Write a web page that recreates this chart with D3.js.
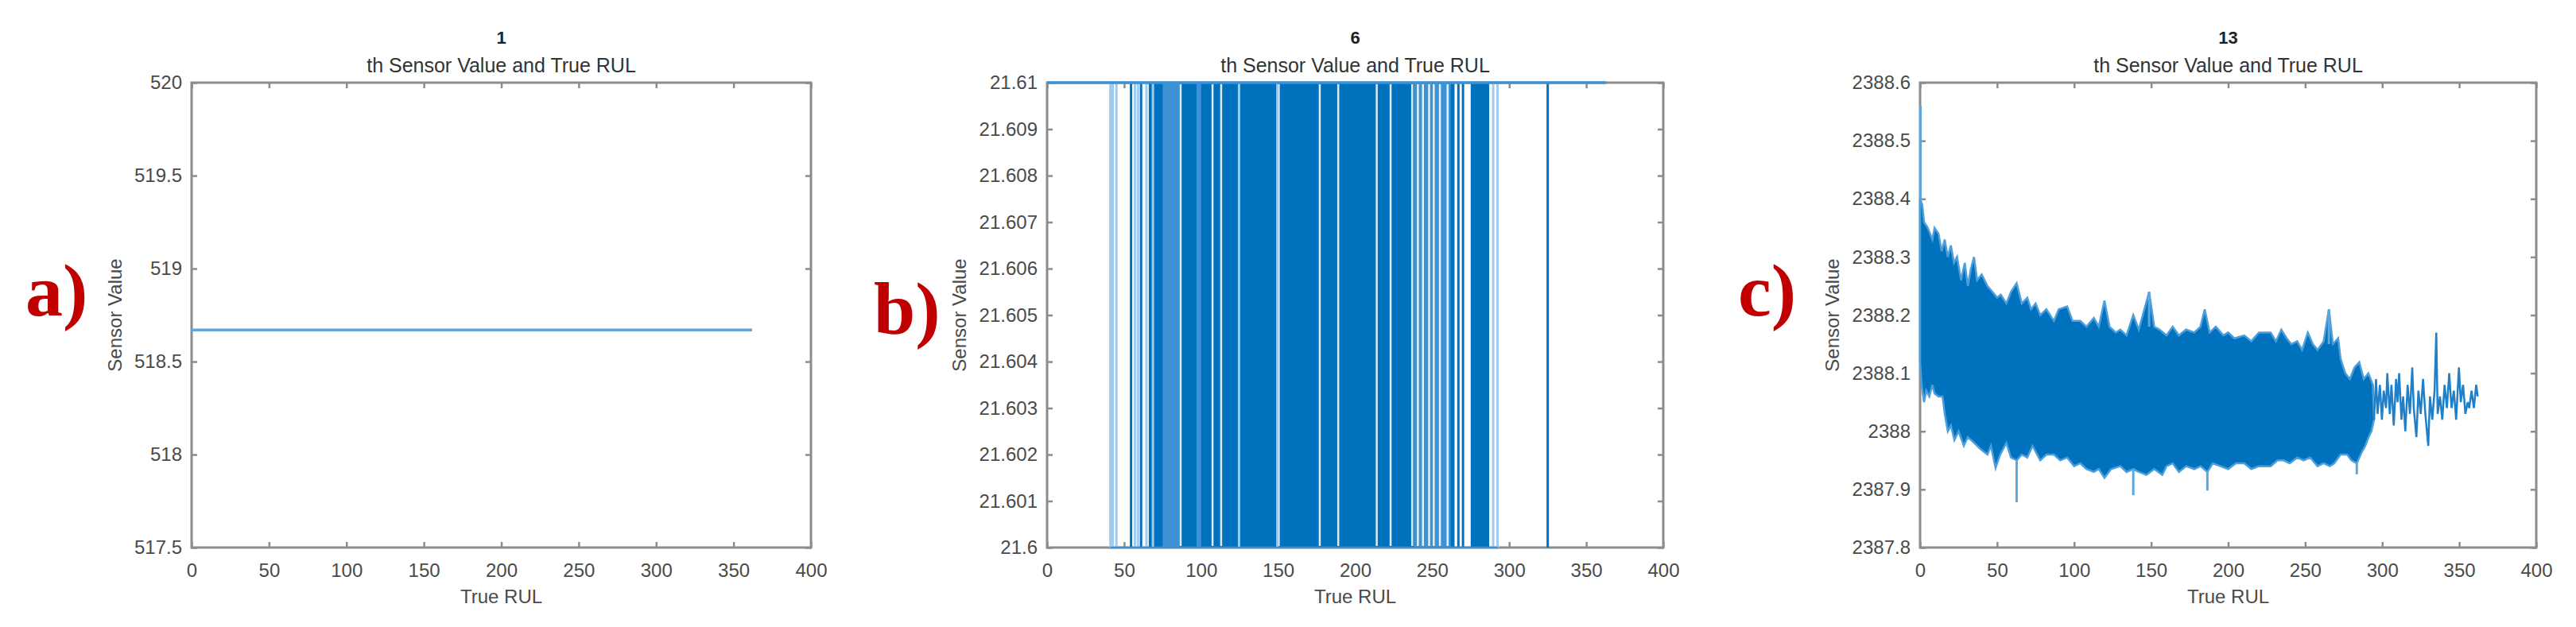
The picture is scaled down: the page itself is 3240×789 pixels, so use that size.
<!DOCTYPE html>
<html>
<head>
<meta charset="utf-8">
<script src="https://cdn.jsdelivr.net/npm/d3@7"></script>
<style>
  html, body { margin: 0; padding: 0; background: #fff; }
  svg { display: block; }
  text { font-family: "Liberation Sans", Arial, sans-serif; }
</style>
</head>
<body>
<svg id="chart" width="3240" height="789"></svg>
<script>
// ---------------- data ----------------
const rulTicks = [0, 50, 100, 150, 200, 250, 300, 350, 400];
const sensorIds = ["1", "6", "13"];
const subTitle = "th Sensor Value and True RUL";
const panelTags = ["a)", "b)", "c)"];
const xLabel = "True RUL";
const yLabel = "Sensor Value";

const aTicks = [517.5, 518, 518.5, 519, 519.5, 520];
const aTickLabels = ["517.5", "518", "518.5", "519", "519.5", "520"];
const bTicks = [21.6, 21.601, 21.602, 21.603, 21.604, 21.605, 21.606, 21.607, 21.608, 21.609, 21.61];
const bTickLabels = ["21.6", "21.601", "21.602", "21.603", "21.604", "21.605", "21.606", "21.607", "21.608", "21.609", "21.61"];
const cTicks = [2387.8, 2387.9, 2388, 2388.1, 2388.2, 2388.3, 2388.4, 2388.5, 2388.6];
const cTickLabels = ["2387.8", "2387.9", "2388", "2388.1", "2388.2", "2388.3", "2388.4", "2388.5", "2388.6"];

// sensor 1: constant
const aRUL = [0, 362];
const aValue = [518.67, 518.67];

// sensor 6: value toggles between 21.61 and 21.60
const bHigh = 21.61, bLow = 21.6;
const bTopRange = [0, 363];
const bBottomRange = [41, 292.5];
const bDenseRanges = [[66, 264.5], [275, 287]];
const bLightBands = [[75, 86], [97, 100], [238, 262]];
const bGaps = [86.7, 107.4, 113, 150.4, 177, 189, 214, 223, 237, 240.7, 244, 248, 251, 255, 260];
const bDarkDips = [54.5, 61, 267, 270, 325];
const bLightDips = [41.1, 42.6, 45, 57, 59, 64.5, 68.7, 124.6, 149.5, 289.6, 292.4];

// sensor 13: envelope of the dense band
const cUpperRUL = [0,1.4,2.6,5,8,9.4,12,14,16,18,20,22,24,26.6,29,31,33,35,37,40,43.8,47,50,52.4,56,59,62.7,66,69.6,72,75,78,82,86.9,90,95.5,99,104,108,112.8,116,119.7,123,127,130,134,138.4,142,148.7,152,155.5,160,164,168,172.7,178,182,184.8,188,192,196.9,200,204,210.5,215,220,227.6,231,234.5,238,241,244.8,248,251.7,255,258,262,265.4,268,271.4,273,276,279,282,285.1,288,291,294];
const cUpperVal = [2388.40,2388.39,2388.36,2388.35,2388.33,2388.35,2388.34,2388.31,2388.33,2388.30,2388.32,2388.29,2388.30,2388.26,2388.29,2388.25,2388.28,2388.30,2388.26,2388.27,2388.25,2388.24,2388.23,2388.235,2388.22,2388.24,2388.255,2388.22,2388.23,2388.21,2388.22,2388.20,2388.21,2388.19,2388.21,2388.215,2388.19,2388.19,2388.18,2388.195,2388.18,2388.225,2388.18,2388.17,2388.175,2388.165,2388.20,2388.175,2388.24,2388.18,2388.175,2388.165,2388.18,2388.165,2388.175,2388.17,2388.18,2388.21,2388.17,2388.18,2388.165,2388.17,2388.16,2388.165,2388.155,2388.17,2388.17,2388.155,2388.175,2388.16,2388.15,2388.155,2388.14,2388.17,2388.15,2388.14,2388.155,2388.21,2388.15,2388.16,2388.125,2388.10,2388.09,2388.11,2388.119,2388.09,2388.10,2388.08];
const cLowerRUL = [0,1,2.6,4,6,8,9.4,12,14.6,16,18,20,22.3,25,28.4,31,35.2,39,43.8,46,49,52,56,59,62.7,66,69.6,73,78,82,86.9,91,95.5,100,104,108,112.8,116,119.7,124,130,134,138.4,142,147,152,157.2,160,164,168,172.7,178,182,186.5,190,195,200,205,210.5,215,220,227.6,232,236,240,244.8,249,253.3,258,261.9,266,268.8,273,277.3,280,283.5,286.9,289,291.2,293,294.7];
const cLowerVal = [2388.12,2388.08,2388.05,2388.07,2388.06,2388.08,2388.065,2388.06,2388.06,2388.03,2388.00,2388.01,2387.985,2388.00,2387.975,2387.99,2387.98,2387.97,2387.96,2387.975,2387.937,2387.96,2387.98,2387.955,2387.95,2387.96,2387.955,2387.975,2387.95,2387.96,2387.96,2387.95,2387.955,2387.94,2387.945,2387.935,2387.93,2387.935,2387.92,2387.935,2387.94,2387.93,2387.935,2387.93,2387.925,2387.935,2387.925,2387.94,2387.945,2387.93,2387.94,2387.935,2387.94,2387.93,2387.945,2387.94,2387.935,2387.945,2387.945,2387.935,2387.94,2387.94,2387.95,2387.95,2387.945,2387.955,2387.95,2387.955,2387.94,2387.945,2387.94,2387.945,2387.96,2387.96,2387.95,2387.945,2387.965,2387.975,2387.99,2388.00,2388.02];
// sparse tail of the series
const cTailRUL = [294.7,296,297,298.5,299.8,301,302.5,303.3,304.9,306,307.5,309,310,311,312.5,313.6,315,316.5,318,319.5,320.5,322.2,323.5,325,326.5,328,329.9,331,332.5,334,335.1,336,337.5,339,340.5,342,343.5,345,346.5,348,349.8,351,352.5,354,355.5,356.5,358,359.5,361,362];
const cTailVal = [2388.02,2388.09,2388.03,2388.08,2388.02,2388.07,2388.04,2388.10,2388.03,2388.08,2388.01,2388.09,2388.05,2388.10,2388.02,2388.06,2388.00,2388.08,2388.03,2388.11,2388.04,2387.99,2388.07,2388.03,2388.09,2388.03,2387.975,2388.06,2388.02,2388.07,2388.17,2388.03,2388.06,2388.02,2388.08,2388.04,2388.10,2388.04,2388.07,2388.02,2388.11,2388.05,2388.08,2388.03,2388.05,2388.04,2388.07,2388.04,2388.08,2388.06];
// isolated spikes: [RUL, from, to]
const cSpikes = [[0.3, 2388.40, 2388.56], [62.7, 2387.95, 2387.878], [138.4, 2387.935, 2387.89], [186.5, 2387.93, 2387.898], [283.5, 2387.945, 2387.926], [265.4, 2388.15, 2388.21], [148.7, 2388.18, 2388.24]];

// ---------------- layout ----------------
const TOP = 104, BOTTOM = 689;
const panels = [
  { left: 241, right: 1020, domain: [517.5, 520], ticks: aTicks, labels: aTickLabels, ylabX: 145, tagX: 32, tagY: 397 },
  { left: 1317, right: 2092, domain: [21.6, 21.61], ticks: bTicks, labels: bTickLabels, ylabX: 1207, tagX: 1099, tagY: 420 },
  { left: 2415, right: 3190, domain: [2387.8, 2388.6], ticks: cTicks, labels: cTickLabels, ylabX: 2305, tagX: 2186, tagY: 397 }
];
const BLUE = "#0072BD", LIGHT = "#9ecbee", MID = "#4b9ad8";
const AXIS = "#8c8c8c", TXT = "#4a4a4a";

const svg = d3.select("#chart");

panels.forEach((p, i) => {
  const x = d3.scaleLinear().domain([0, 400]).range([p.left, p.right]);
  const y = d3.scaleLinear().domain(p.domain).range([BOTTOM, TOP]);
  p.x = x; p.y = y;
  const g = svg.append("g");

  // axes
  const ax = g.append("g").attr("class", "axes");
  const bottom = ax.append("g").attr("transform", `translate(0,${BOTTOM})`)
    .call(d3.axisBottom(x).tickValues(rulTicks).tickSizeInner(-7).tickSizeOuter(0).tickPadding(20));
  const topA = ax.append("g").attr("transform", `translate(0,${TOP})`)
    .call(d3.axisTop(x).tickValues(rulTicks).tickSizeInner(-7).tickSizeOuter(0).tickFormat(""));
  const leftA = ax.append("g").attr("transform", `translate(${p.left},0)`)
    .call(d3.axisLeft(y).tickValues(p.ticks).tickSizeInner(-7).tickSizeOuter(0).tickPadding(12)
      .tickFormat((d, k) => p.labels[k]));
  const rightA = ax.append("g").attr("transform", `translate(${p.right},0)`)
    .call(d3.axisRight(y).tickValues(p.ticks).tickSizeInner(-7).tickSizeOuter(0).tickFormat(""));
  ax.selectAll(".domain").remove();
  ax.selectAll(".tick line").attr("stroke", AXIS).attr("stroke-width", 2.5);
  ax.selectAll(".tick text").attr("fill", TXT).style("font-size", "24px").style("font-family", "Liberation Sans, Arial, sans-serif");
  g.append("rect").attr("x", p.left).attr("y", TOP).attr("width", p.right - p.left).attr("height", BOTTOM - TOP)
    .attr("fill", "none").attr("stroke", AXIS).attr("stroke-width", 3);

  // titles
  const cx = (p.left + p.right) / 2;
  g.append("text").attr("x", cx).attr("y", 55).attr("text-anchor", "middle")
    .style("font-size", "22px").style("font-weight", "bold").attr("fill", "#222").text(sensorIds[i]);
  g.append("text").attr("x", cx).attr("y", 91).attr("text-anchor", "middle")
    .style("font-size", "25px").attr("fill", "#333").text(subTitle);
  g.append("text").attr("x", cx).attr("y", 759).attr("text-anchor", "middle")
    .style("font-size", "24px").attr("fill", TXT).text(xLabel);
  g.append("text").attr("transform", `translate(${p.ylabX + 8},${(TOP + BOTTOM) / 2}) rotate(-90)`)
    .attr("text-anchor", "middle").style("font-size", "24px").attr("fill", TXT).text(yLabel);
  g.append("text").attr("x", p.tagX).attr("y", p.tagY)
    .style("font-family", "Liberation Serif, 'Times New Roman', serif").style("font-weight", "bold")
    .style("font-size", "94px").attr("fill", "#C00000").text(panelTags[i]);
});

// ---------------- panel a ----------------
{
  const p = panels[0];
  const line = d3.line().x(d => p.x(d[0])).y(d => p.y(d[1]));
  svg.append("path").datum(d3.zip(aRUL, aValue)).attr("d", line)
    .attr("fill", "none").attr("stroke", "#5aa8e0").attr("stroke-width", 3.5);
}

// ---------------- panel b ----------------
{
  const p = panels[1];
  const g = svg.append("g");
  const yH = p.y(bHigh), yL = p.y(bLow);
  g.selectAll("rect.dense").data(bDenseRanges).join("rect")
    .attr("x", d => p.x(d[0])).attr("width", d => p.x(d[1]) - p.x(d[0]))
    .attr("y", yH).attr("height", yL - yH).attr("fill", BLUE);
  g.selectAll("rect.band").data(bLightBands).join("rect")
    .attr("x", d => p.x(d[0])).attr("width", d => p.x(d[1]) - p.x(d[0]))
    .attr("y", yH).attr("height", yL - yH).attr("fill", MID).attr("opacity", 0.8);
  g.selectAll("line.gap").data(bGaps).join("line")
    .attr("x1", d => p.x(d)).attr("x2", d => p.x(d)).attr("y1", yH + 2).attr("y2", yL - 2)
    .attr("stroke", "#ffffff").attr("stroke-width", 2.5).attr("opacity", 0.85);
  g.selectAll("line.lightdip").data(bLightDips).join("line")
    .attr("x1", d => p.x(d)).attr("x2", d => p.x(d)).attr("y1", yH).attr("y2", yL)
    .attr("stroke", LIGHT).attr("stroke-width", 3);
  g.selectAll("line.darkdip").data(bDarkDips).join("line")
    .attr("x1", d => p.x(d)).attr("x2", d => p.x(d)).attr("y1", yH).attr("y2", yL)
    .attr("stroke", BLUE).attr("stroke-width", 3);
  g.append("line").attr("x1", p.x(bTopRange[0])).attr("x2", p.x(bTopRange[1]))
    .attr("y1", yH).attr("y2", yH).attr("stroke", "#3e92d4").attr("stroke-width", 3.5);
  g.append("line").attr("x1", p.x(bBottomRange[0])).attr("x2", p.x(bBottomRange[1]))
    .attr("y1", yL).attr("y2", yL).attr("stroke", "#3e92d4").attr("stroke-width", 2.5);
}

// ---------------- panel c ----------------
{
  const p = panels[2];
  const g = svg.append("g");
  const pts = d3.zip(cUpperRUL, cUpperVal).concat(d3.zip(cLowerRUL, cLowerVal).reverse());
  const line = d3.line().x(d => p.x(d[0])).y(d => p.y(d[1]));
  g.append("path").attr("d", line(pts) + "Z")
    .attr("fill", BLUE).attr("stroke", "#4d9fdc").attr("stroke-width", 2.5).attr("stroke-linejoin", "miter");
  g.append("path").datum(d3.zip(cTailRUL, cTailVal)).attr("d", line)
    .attr("fill", "none").attr("stroke", "#1f7fc8").attr("stroke-width", 2.5);
  g.selectAll("line.spike").data(cSpikes).join("line")
    .attr("x1", d => p.x(d[0])).attr("x2", d => p.x(d[0]))
    .attr("y1", d => p.y(d[1])).attr("y2", d => p.y(d[2]))
    .attr("stroke", "#5aa8e0").attr("stroke-width", 3);
}
</script>
</body>
</html>
